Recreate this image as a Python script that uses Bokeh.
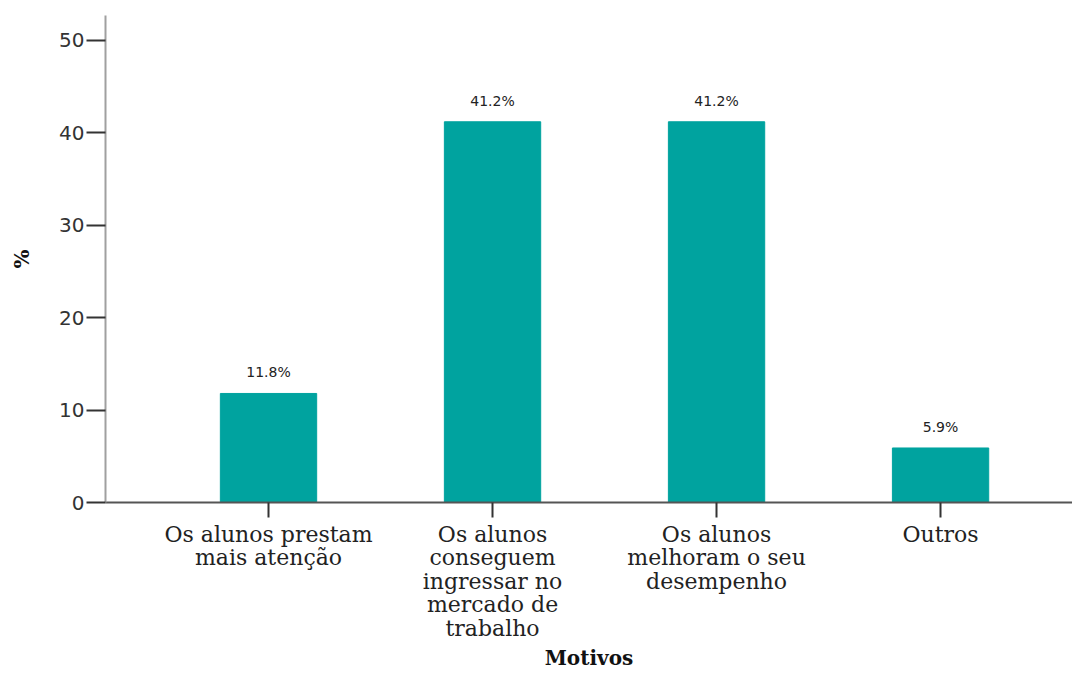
from bokeh.plotting import figure
from bokeh.models import Range1d, FixedTicker, ColumnDataSource, LabelSet
from bokeh.core.properties import value
from bokeh.embed import file_html
from bokeh.resources import INLINE

categories = ["Os alunos prestam\nmais atenção",
              "Os alunos\nconseguem\ningressar no\nmercado de\ntrabalho",
              "Os alunos\nmelhoram o seu\ndesempenho",
              "Outros"]
values = [11.8, 41.2, 41.2, 5.9]
value_labels = ["11.8%", "41.2%", "41.2%", "5.9%"]
y_ticks = [0, 10, 20, 30, 40, 50]

xs = list(range(len(categories)))

p = figure(width=1072, height=672, output_backend="svg", toolbar_location=None,
           x_range=Range1d(-0.7277, 3.589), y_range=Range1d(0, 52.7),
           min_border_left=105, min_border_top=15, min_border_right=0, min_border_bottom=170)
p.outline_line_color = None
p.xgrid.grid_line_color = None
p.ygrid.grid_line_color = None
p.background_fill_color = "white"

src = ColumnDataSource(dict(x=xs, top=values, lab=value_labels))
p.vbar(x="x", top="top", width=0.43, source=src, fill_color="#00a39f", line_color="#00a39f")

labels = LabelSet(x="x", y="top", text="lab", source=src, text_align="center",
                  text_baseline="bottom", y_offset=13, text_font=value("DejaVu Sans"),
                  text_font_size=value("14px"), text_color=value("#222222"))
p.add_layout(labels)

# Y axis
p.yaxis.ticker = FixedTicker(ticks=y_ticks)
p.yaxis.axis_line_color = "#a0a0a0"
p.yaxis.axis_line_width = 2
p.yaxis.major_tick_line_color = "#333333"
p.yaxis.major_tick_line_width = 2
p.yaxis.major_tick_out = 19
p.yaxis.major_tick_in = 0
p.yaxis.minor_tick_line_color = None
p.yaxis.major_label_standoff = 2
p.yaxis.major_label_text_font = "DejaVu Sans"
p.yaxis.major_label_text_font_size = "20px"
p.yaxis.major_label_text_color = "#333333"
p.yaxis.axis_label = "%"
p.yaxis.axis_label_text_font = "DejaVu Serif"
p.yaxis.axis_label_text_font_style = "bold"
p.yaxis.axis_label_text_font_size = "20px"
p.yaxis.axis_label_text_color = "#111111"
p.yaxis.axis_label_standoff = 22

# X axis
p.xaxis.ticker = FixedTicker(ticks=xs)
p.xaxis.major_label_overrides = {i: c for i, c in zip(xs, categories)}
p.xaxis.axis_line_color = "#555555"
p.xaxis.axis_line_width = 2
p.xaxis.major_tick_line_color = "#333333"
p.xaxis.major_tick_line_width = 2
p.xaxis.major_tick_out = 15
p.xaxis.major_tick_in = 0
p.xaxis.minor_tick_line_color = None
p.xaxis.major_label_standoff = 4
p.xaxis.major_label_text_font = "DejaVu Serif"
p.xaxis.major_label_text_font_size = "22px"
p.xaxis.major_label_text_color = "#222222"
p.xaxis.major_label_text_line_height = 0.94
p.xaxis.axis_label = "Motivos"
p.xaxis.axis_label_text_font = "DejaVu Serif"
p.xaxis.axis_label_text_font_style = "bold"
p.xaxis.axis_label_text_font_size = "20px"
p.xaxis.axis_label_text_color = "#111111"
p.xaxis.axis_label_standoff = 2

open("out.html", "w").write(file_html(p, INLINE))
